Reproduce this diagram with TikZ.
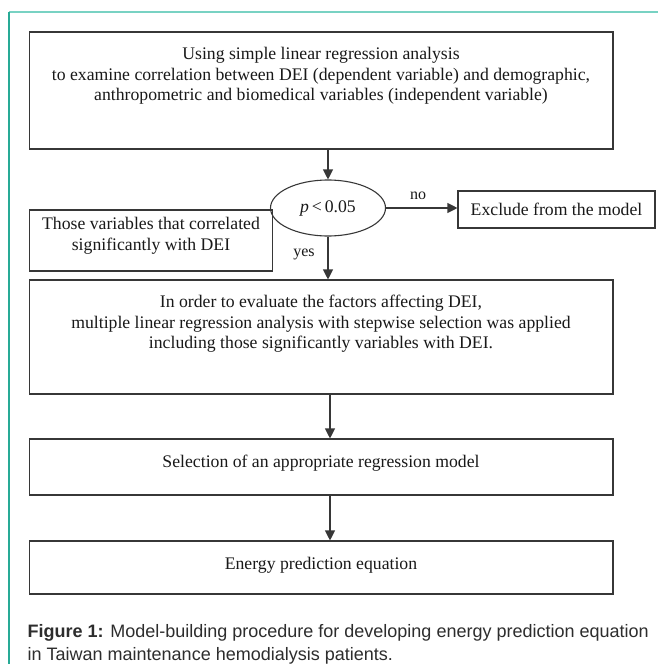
\documentclass[tikz,border=0pt]{standalone}
\usepackage{fontspec}
\setmainfont{Liberation Serif}
\newfontfamily\capfont{Liberation Sans}
\usetikzlibrary{shapes.geometric,arrows.meta}
\definecolor{edge}{RGB}{55,55,55}
\definecolor{tealA}{RGB}{120,210,195}
\definecolor{tealB}{RGB}{40,170,150}
\definecolor{captxt}{RGB}{45,45,45}
\definecolor{bodytxt}{RGB}{25,25,25}
\begin{document}
\begin{tikzpicture}[x=1pt,y=-1pt,
  boxstyle/.style={draw=edge,line width=1.1pt,rectangle,inner sep=0pt},
  txt/.style={font=\fontsize{17.7}{20.5}\selectfont,text=bodytxt,align=center,inner sep=0pt},
  lbl/.style={font=\fontsize{16}{18}\selectfont,text=bodytxt,inner sep=0pt},
  capstyle/.style={font=\capfont\fontsize{18}{23}\selectfont,text=captxt,inner sep=0pt,anchor=base west},
  arr/.style={draw=edge,line width=1.1pt,-{Triangle[length=10pt,width=10pt]}}]
\useasboundingbox (0,0) rectangle (658,664);
\fill[white] (0,0) rectangle (658,664);
\draw[tealA,line width=1.5pt] (9,12) -- (658,12);
\draw[tealB,line width=1.5pt] (9,12) -- (9,664);

% top box
\node[boxstyle,minimum width=583.5pt,minimum height=117pt] (b1) at (321.25,90.5) {};
\node[txt] (t1) at (321,76) {Using simple linear regression analysis\\
to examine correlation between DEI (dependent variable) and demographic,\\
anthropometric and biomedical variables (independent variable)};

% decision
\node[draw=edge,line width=1.1pt,ellipse,minimum width=115pt,minimum height=56pt,inner sep=0pt,fill=white,font=\fontsize{17.7}{20}\selectfont,text=bodytxt] (e) at (328,208) {\textit{p}\,<\,0.05};

% exclude box
\node[boxstyle,txt,minimum width=197pt,minimum height=37pt] (ex) at (556.5,209.5) {Exclude from the model};

% left box
\node[boxstyle,minimum width=243.4pt,minimum height=61pt] (lb) at (151,240.5) {};
\node[txt] (tl) at (151,236) {Those variables that correlated\\significantly with DEI};

% box 2
\node[boxstyle,minimum width=583.5pt,minimum height=114pt] (b2) at (321.25,337) {};
\node[txt] (t2) at (321,324) {In order to evaluate the factors affecting DEI,\\
multiple linear regression analysis with stepwise selection was applied\\
including those significantly variables with DEI.};

% box 3
\node[boxstyle,minimum width=583.5pt,minimum height=56pt] (b3) at (321.25,467) {};
\node[txt] (t3) at (321,463) {Selection of an appropriate regression model};

% box 4
\node[boxstyle,minimum width=583.5pt,minimum height=53pt] (b4) at (321.25,567.5) {};
\node[txt] (t4) at (321,565) {Energy prediction equation};

% labels
\node[lbl] (no) at (418,196) {no};
\node[lbl] (yes) at (304,254) {yes};

% connectors
\draw[arr] (b1.south -| e.north) -- (e.north);
\draw[arr] (e.east) -- (e.east -| ex.west);
\draw[arr] (e.south) -- (e.south |- b2.north);
\draw[arr] ([xshift=8.75pt]b2.south) -- ([xshift=8.75pt]b2.south |- b3.north);
\draw[arr] ([xshift=8.75pt]b3.south) -- ([xshift=8.75pt]b3.south |- b4.north);

% caption
\node[capstyle] (cap1) at (27.5,637) {\textbf{Figure 1:} Model-building procedure for developing energy prediction equation};
\node[capstyle] (cap2) at (27.5,660) {in Taiwan maintenance hemodialysis patients.};
\end{tikzpicture}
\end{document}
